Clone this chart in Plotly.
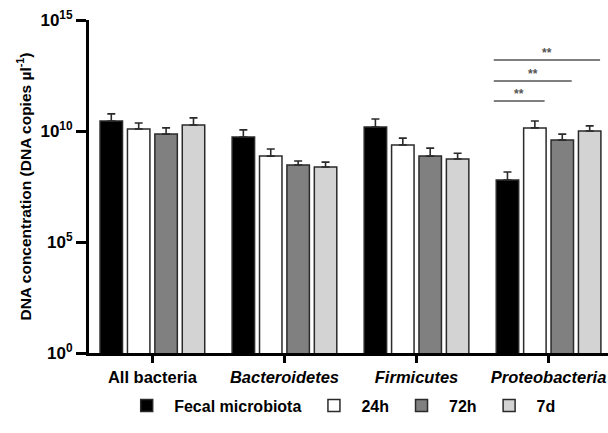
import plotly.graph_objects as go

categories = ["All bacteria", "Bacteroidetes", "Firmicutes", "Proteobacteria"]
tick_labels = ["<b>All bacteria</b>", "<b><i>Bacteroidetes</i></b>",
               "<b><i>Firmicutes</i></b>", "<b><i>Proteobacteria</i></b>"]
series_names = ["Fecal microbiota", "24h", "72h", "7d"]
# log10 of mean DNA copies per µl
log_means = {
    "Fecal microbiota": [10.45, 9.73, 10.18, 7.79],
    "24h":              [10.09, 8.87, 9.37, 10.14],
    "72h":              [9.86, 8.47, 8.87, 9.59],
    "7d":               [10.27, 8.38, 8.74, 10.00],
}
# log10 of mean + SD (upper whisker)
log_upper = {
    "Fecal microbiota": [10.77, 10.05, 10.54, 8.15],
    "24h":              [10.36, 9.19, 9.68, 10.45],
    "72h":              [10.14, 8.65, 9.23, 9.86],
    "7d":               [10.59, 8.60, 9.00, 10.23],
}
fills = ["#000000", "#ffffff", "#808080", "#d3d3d3"]
# significance brackets within Proteobacteria: (start x, end x, log10 height)
sig_x0 = [2.585, 2.585, 2.585]
sig_x1 = [2.97, 3.175, 3.39]
sig_h = [11.35, 12.25, 13.2]
sig_text = ["**", "**", "**"]

fig = go.Figure()
xs = list(range(len(categories)))
for name, col in zip(series_names, fills):
    m = [10 ** v for v in log_means[name]]
    up = [10 ** u - 10 ** v for u, v in zip(log_upper[name], log_means[name])]
    fig.add_trace(go.Bar(
        x=xs, y=m, name=name,
        marker=dict(color=col, line=dict(color="#2a2a2a", width=1.5)),
        error_y=dict(type="data", symmetric=False, array=up,
                     arrayminus=[0] * len(m), color="#2a2a2a",
                     thickness=1.6, width=4),
    ))

for a, b, h, t in zip(sig_x0, sig_x1, sig_h, sig_text):
    fig.add_trace(go.Scatter(
        x=[a, b], y=[10 ** h, 10 ** h], mode="lines",
        line=dict(color="#555555", width=1.5), showlegend=False,
        hoverinfo="skip"))
    fig.add_annotation(x=(a + b) / 2, y=h, xref="x", yref="y", text="<b>" + t + "</b>",
                       showarrow=False, yanchor="bottom", yshift=-2,
                       font=dict(size=12, color="#555555"))

font_family = "Liberation Sans, Arial, sans-serif"
fig.update_layout(
    width=608, height=433,
    margin=dict(l=89, r=0, t=20, b=80, autoexpand=False),
    paper_bgcolor="white", plot_bgcolor="white",
    barmode="group", bargap=0.17, bargroupgap=0.18,
    font=dict(family=font_family, color="black"),
    legend=dict(orientation="h", x=0.484, xanchor="center",
                yref="container", y=0.063, yanchor="middle",
                font=dict(size=16, weight="bold"), itemwidth=45,
                traceorder="normal"),
    showlegend=True,
)
fig.update_xaxes(
    range=[-0.48, 3.45], tickvals=xs, ticktext=tick_labels,
    showline=True, linecolor="black", linewidth=3,
    ticks="outside", ticklen=7, tickwidth=3, tickcolor="black",
    tickfont=dict(size=16.5), showgrid=False, zeroline=False, automargin=False,
)
fig.update_yaxes(
    type="log", range=[0, 15],
    tickvals=[1, 1e5, 1e10, 1e15],
    ticktext=["10<sup>0</sup>", "10<sup>5</sup>", "10<sup>10</sup>", "10<sup>15</sup>"],
    showline=True, linecolor="black", linewidth=3,
    ticks="outside", ticklen=10, tickwidth=3, tickcolor="black",
    tickfont=dict(size=17, weight="bold"), showgrid=False, zeroline=False,
    title=dict(text="DNA concentration (DNA copies µl<sup>-1</sup>)",
               font=dict(size=15.5, weight="bold"), standoff=6),
    automargin=False,
)
fig.write_html("out.html")
